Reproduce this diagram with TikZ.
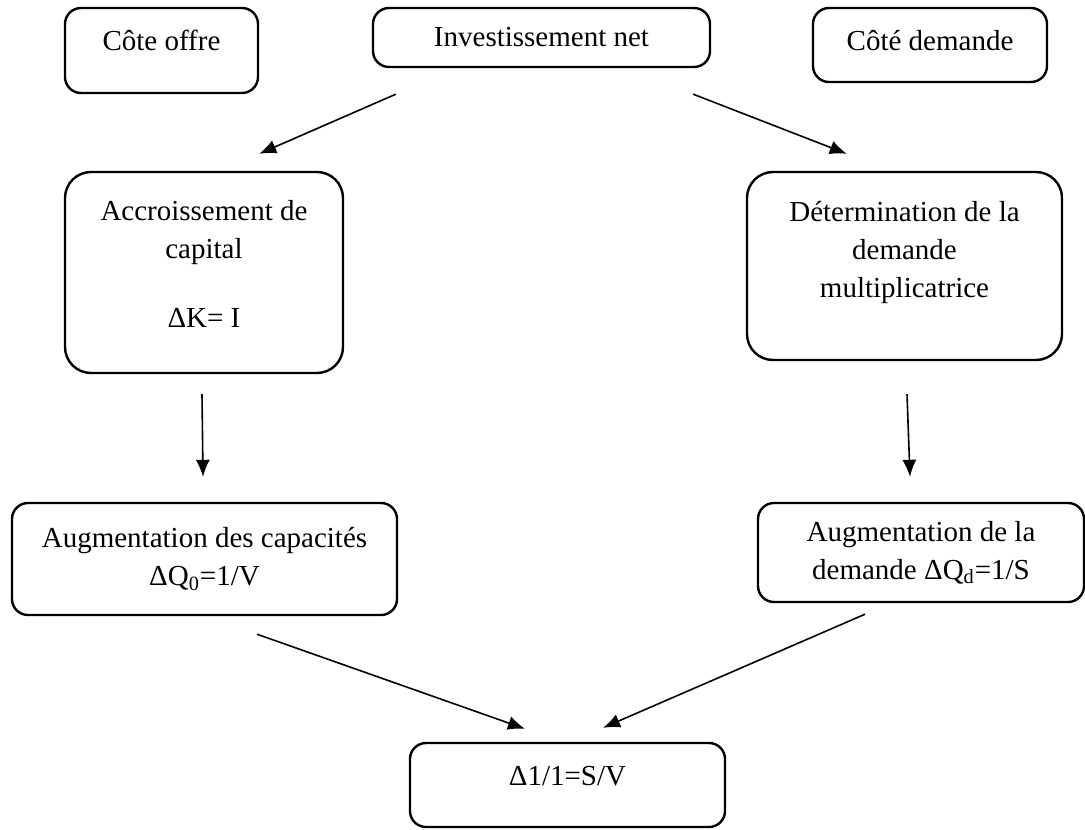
\documentclass[tikz,border=0pt]{standalone}
\usepackage{fontspec}
\setmainfont{Liberation Serif}
\usepackage{tikz}
\usetikzlibrary{arrows.meta}
\usetikzlibrary{positioning}

\tikzset{
  etape/.style={draw, line width=1.2pt, rounded corners=8pt, align=center,
    inner sep=0pt, font=\fontsize{14.5pt}{19pt}\selectfont},
  grande/.style={etape, rounded corners=13pt},
  fleche/.style={->, line width=0.8pt}
}

\begin{document}
\begin{tikzpicture}[x=0.5pt,y=-0.5pt,>={Latex[length=8.5pt,width=7pt]}]
			\useasboundingbox (0,0) rectangle (1085,829);
			% haut
			\node[etape, minimum width=96.5pt, minimum height=42.5pt, text depth=10.5pt] (offre) at (161.5,50.5) {Côte offre};
			\node[etape, minimum width=168.5pt, minimum height=29.5pt] (invest) at (541.5,37.5) {Investissement net};
			\node[etape, minimum width=117pt, minimum height=37pt, text depth=5pt] (demande) at (930,45) {Côté demande};
			% milieu
			\node[grande, minimum width=139pt, minimum height=100.5pt, text depth=9pt] (accr) at (204,272.5) {Accroissement de\\capital\\[15.5pt]ΔK= I};
			\node[grande, minimum width=157.5pt, minimum height=94pt, text depth=17pt] (determ) at (904.5,266) {Détermination de la\\demande\\multiplicatrice};
			\node[etape, minimum width=192.5pt, minimum height=56pt] (capac) at (204.5,559) {Augmentation des capacités\\ΔQ\textsubscript{0}=1/V};
			\node[etape, minimum width=163pt, minimum height=49.5pt] (augdem) at (921,552.5) {Augmentation de la\\demande ΔQ\textsubscript{d}=1/S};
			% bas
			\node[etape, minimum width=157.5pt, minimum height=42pt, text depth=9pt] (delta) at (567.5,785) {Δ1/1=S/V};
			
			\draw[fleche] ([shift={(24,26)}]invest.south west) -- ([shift={(-85,-17)}]accr.north east);
			\draw[fleche] ([shift={(-18,26)}]invest.south east) -- ([shift={(101,-17)}]determ.north west);
			\draw[fleche] ([shift={(-2,20)}]accr.south) -- ([shift={(-1.5,-25)}]capac.north);
			\draw[fleche] ([shift={(2.5,33)}]determ.south) -- ([shift={(-11,-25)}]augdem.north);
			\draw[fleche] ([shift={(52.5,18)}]capac.south) -- ([shift={(-42.5,-13)}]delta.north);
			\draw[fleche] ([shift={(-56,11)}]augdem.south) -- ([shift={(35.5,-14)}]delta.north);
\end{tikzpicture}
\end{document}
